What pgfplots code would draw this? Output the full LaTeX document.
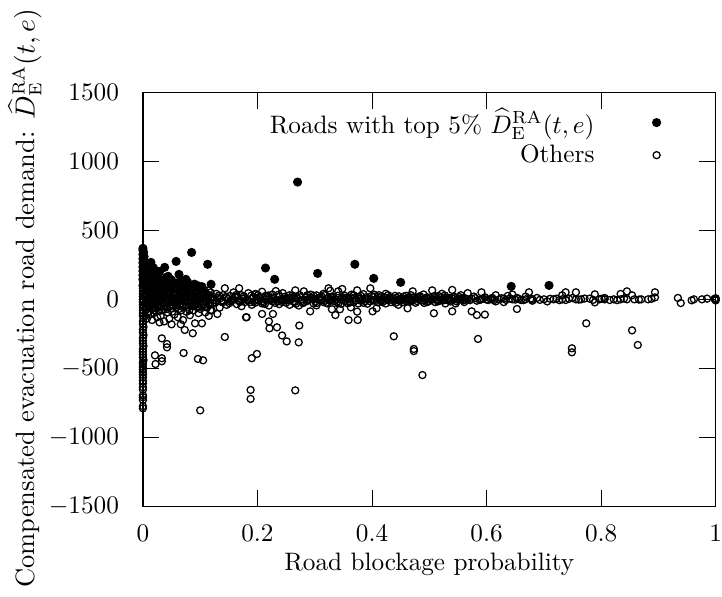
\documentclass[border=0pt]{standalone}
\usepackage{pgfplots}
\pgfplotsset{compat=1.18}
\begin{document}
\begin{tikzpicture}
\begin{axis}[
 scale only axis, width=227pt, height=164pt,
 xmin=0, xmax=1, ymin=-1500, ymax=1500,
 clip=false,
 xtick={0,0.2,0.4,0.6,0.8,1}, ytick={-1500,-1000,-500,0,500,1000,1500},
 tick align=inside, major tick length=6.5pt,
 every tick/.style={black, line width=0.4pt},
 axis line style={line width=0.5pt},
 scaled x ticks=false,
 xticklabel style={/pgf/number format/fixed, /pgf/number format/precision=1, inner sep=0pt, yshift=-7.3pt},
 yticklabel style={/pgf/number format/1000 sep={}, xshift=-6pt},
 xlabel={Road blockage probability},
 xlabel style={yshift=-1pt},
 ylabel={\fontsize{10.5}{12}\selectfont Compensated evacuation road demand: $\widehat{D}^{\mathrm{RA}}_{\mathrm{E}}(t,e)$},
 ylabel style={at={(ticklabel cs:0.503)}, yshift=-4pt},
 legend style={draw=none, fill=none, at={(rel axis cs:0.918,0.987)}, anchor=north east, column sep=21pt, row sep=-1pt},
 legend cell align=right,
 legend plot pos=right,
]
\addplot[only marks, mark=*, mark size=1.6pt, black] coordinates {
(0,370)(0,355)(0.001,340)(0,325)(0.002,310)(0,295)(0.001,280)(0,265)(0.002,250)(0,235)(0.001,220)(0,205)(0.003,190)(0,175)(0.002,160)(0,145)(0.001,130)(0.004,115)(0,100)
(0.006,240)(0.008,200)(0.010,170)(0.012,140)(0.014,268)(0.016,120)(0.018,230)(0.020,105)(0.022,210)(0.025,180)(0.028,150)(0.030,130)(0.033,110)(0.036,95)(0.038,232)(0.041,160)(0.044,167)(0.047,125)(0.050,140)(0.053,100)(0.058,275)(0.060,120)(0.063,181)(0.066,105)(0.070,130)(0.075,145)(0.080,95)(0.085,340)(0.090,110)(0.095,100)(0.103,92)(0.113,254)(0.119,109)
(0.003,150)(0.005,95)(0.007,130)(0.009,110)(0.011,220)(0.013,100)(0.015,185)(0.017,150)(0.019,125)(0.021,95)(0.024,140)(0.027,110)(0.029,200)(0.032,90)(0.035,135)(0.039,120)(0.043,100)(0.046,150)(0.049,95)(0.055,115)(0.068,95)(0.072,110)(0.078,125)
(0.214,227)(0.23,145)(0.27,850)(0.305,188)(0.37,254)(0.403,152)(0.45,123)(0.643,94)(0.709,101)
};
\addlegendentry{Roads with top 5\% $\widehat{D}^{\mathrm{RA}}_{\mathrm{E}}(t,e)$}
\addplot[only marks, mark=o, mark size=1.4pt, mark options={line width=0.5pt}, black] coordinates {
(0,80)(0,60)(0,40)(0,20)(0,0)(0,-20)(0,-40)(0,-60)(0,-80)
(0,-100)(0,-120)(0.001,-140)(0,-160)(0,-180)(0.001,-200)(0,-220)(0,-240)(0.001,-260)(0,-280)(0,-300)(0,-320)(0.001,-340)(0,-360)(0,-380)(0,-400)(0,-420)(0.001,-440)(0,-456)(0,-470)(0,-490)(0,-510)(0,-529)(0,-545)(0,-565)(0,-590)(0,-610)(0,-637)(0,-655)(0,-695)(0,-710)(0,-730)(0,-775)(0,-790)
(0.004,60)(0.004,-30)(0.004,-120)(0.004,10)
(0.007,80)(0.007,-60)(0.007,20)(0.007,-10)(0.007,-140)
(0.010,40)(0.010,-90)(0.010,5)(0.010,-40)
(0.013,70)(0.013,-20)(0.013,-110)(0.013,30)
(0.016,50)(0.016,-70)(0.016,0)(0.016,-150)
(0.019,85)(0.019,-35)(0.019,15)(0.019,-100)
(0.022,60)(0.022,-5)(0.022,-60)
(0.025,75)(0.025,-130)(0.025,25)(0.025,-45)
(0.028,40)(0.028,-15)(0.028,-85)
(0.031,65)(0.031,-50)(0.031,10)(0.031,-120)
(0.034,80)(0.034,0)(0.034,-30)
(0.037,55)(0.037,-75)(0.037,20)(0.037,-160)
(0.040,70)(0.040,-10)(0.040,-55)
(0.043,35)(0.043,-95)(0.043,5)
(0.046,60)(0.046,-25)(0.046,-140)
(0.049,80)(0.049,15)(0.049,-65)
(0.052,50)(0.052,-40)(0.052,-5)
(0.055,75)(0.055,-110)(0.055,25)
(0.058,40)(0.058,-60)(0.058,0)
(0.061,65)(0.061,-20)(0.061,-130)
(0.064,85)(0.064,10)(0.064,-45)
(0.067,55)(0.067,-80)(0.067,-10)
(0.070,70)(0.070,-35)(0.070,20)(0.070,-150)
(0.073,45)(0.073,-5)(0.073,-222)
(0.076,60)(0.076,-90)(0.076,15)
(0.079,80)(0.079,-25)(0.079,-60)
(0.082,35)(0.082,5)(0.082,-115)
(0.085,65)(0.085,-45)(0.085,-15)
(0.088,50)(0.088,20)(0.088,-80)
(0.091,75)(0.091,-30)(0.091,-174)
(0.094,40)(0.094,0)(0.094,-55)
(0.097,60)(0.097,-100)(0.097,10)
(0.100,80)(0.100,-20)(0.100,-70)
(0.103,45)(0.103,-174)(0.103,5)
(0.106,70)(0.106,-40)(0.106,25)
(0.109,55)(0.109,-10)(0.109,-95)
(0.112,35)(0.112,15)(0.112,-60)
(0.115,65)(0.115,-30)(0.115,-120)
(0.118,50)(0.118,-80)(0.118,0)
(0.002,45)(0.002,-50)(0.005,25)(0.005,-75)(0.006,-5)(0.008,55)(0.009,-25)(0.011,70)(0.011,-55)(0.012,15)(0.014,-5)(0.015,45)(0.017,-40)(0.018,25)(0.020,-80)(0.021,35)(0.023,-25)(0.024,10)(0.026,50)(0.027,-60)(0.029,20)(0.030,-5)(0.032,40)(0.033,-80)(0.035,25)(0.036,-20)(0.038,50)(0.039,-40)(0.041,15)(0.042,-70)(0.044,60)(0.045,-10)(0.047,30)(0.048,-50)(0.050,20)(0.051,-90)(0.053,45)(0.054,-25)(0.056,10)(0.057,-45)(0.059,70)(0.060,-5)(0.062,30)(0.063,-70)(0.065,45)(0.066,-30)(0.068,15)(0.069,-55)(0.071,60)(0.072,-15)(0.074,25)(0.075,-45)(0.077,40)(0.078,-5)(0.080,20)(0.081,-80)(0.083,55)(0.084,-25)(0.086,10)(0.087,-50)(0.089,35)(0.090,-10)(0.092,50)(0.093,-35)(0.095,20)(0.096,-60)(0.098,35)(0.099,-5)(0.101,25)(0.102,-45)(0.104,50)(0.105,-15)(0.107,10)(0.108,-55)(0.110,40)(0.111,-25)(0.113,20)(0.114,-5)(0.116,30)(0.117,-40)(0.119,15)
(0.033,-283)(0.042,-324)(0.042,-348)(0.021,-406)(0.033,-427)(0.022,-469)(0.033,-449)(0.05,-181)(0.066,-181)(0.087,-246)(0.071,-389)(0.096,-432)(0.105,-442)(0.1,-805)(0.029,-167)(0.008,-99)
(0.122,20)(0.122,-30)(0.128,-10)(0.128,40)(0.134,5)(0.134,-60)(0.140,30)(0.140,-20)(0.143,80)(0.146,-40)(0.146,10)(0.152,25)(0.152,-15)(0.158,0)(0.158,50)(0.164,-35)(0.164,15)(0.168,80)(0.168,-5)(0.172,30)(0.172,-50)(0.178,-20)(0.178,10)(0.181,-130)(0.184,45)(0.184,-10)(0.190,5)(0.190,-40)(0.196,38)(0.196,-25)(0.202,15)(0.202,-5)(0.208,-30)(0.208,55)(0.214,0)(0.214,25)(0.220,-45)(0.220,10)(0.220,-160)(0.226,35)(0.226,-15)(0.227,-106)(0.232,60)(0.232,-5)(0.238,20)(0.238,-35)(0.243,-262)(0.244,-10)(0.244,45)(0.250,10)(0.250,-25)(0.251,-305)(0.256,-40)(0.256,30)(0.262,5)(0.262,-15)(0.266,65)(0.266,-660)(0.268,20)(0.272,-312)(0.272,-45)(0.273,-190)(0.275,15)(0.275,-5)(0.281,58)(0.281,-20)(0.287,0)(0.287,30)(0.292,-87)(0.292,10)(0.298,25)(0.298,-30)(0.303,29)(0.303,-44)(0.309,-10)(0.309,15)(0.315,40)(0.315,-20)(0.320,5)(0.320,-25)(0.324,80)(0.327,62)(0.327,-10)(0.330,-72)(0.330,20)(0.336,-114)(0.336,0)(0.341,58)(0.341,-30)(0.344,-72)(0.348,75)(0.348,10)(0.353,-15)(0.353,25)(0.359,-150)(0.359,0)(0.363,-58)(0.363,15)(0.368,30)(0.368,-20)(0.374,65)(0.374,-89)(0.380,5)(0.380,-10)(0.385,38)(0.385,-25)(0.390,15)(0.390,0)(0.397,80)(0.397,-15)(0.401,-87)(0.405,20)(0.405,-5)(0.408,-65)(0.412,10)(0.412,30)(0.418,-20)(0.418,0)(0.424,40)(0.424,-30)(0.430,5)(0.430,15)(0.438,-268)(0.440,-10)(0.440,25)(0.446,0)(0.446,-40)
(0.143,-273)(0.188,-657)(0.188,-722)(0.19,-427)(0.199,-396)(0.221,-210)(0.234,-203)(0.18,-130)(0.375,-150)(0.208,-106)(0.130,-106)(0.120,-80)(0.197,38)
(0.124,-5)(0.131,12)(0.137,-18)(0.149,3)(0.155,-8)(0.161,20)(0.167,-12)(0.175,6)(0.187,-20)(0.193,14)(0.199,-3)(0.205,8)(0.211,-22)(0.217,16)(0.223,-6)(0.229,10)(0.235,-14)(0.241,2)(0.247,18)(0.253,-8)(0.259,12)(0.265,-20)(0.271,4)(0.278,-12)(0.284,16)(0.290,-4)(0.295,8)(0.301,-16)(0.306,2)(0.312,20)(0.318,-10)(0.323,6)(0.329,-4)(0.333,14)(0.339,-18)(0.345,2)(0.351,-6)(0.356,12)(0.361,-24)(0.366,4)(0.371,-8)(0.377,18)(0.383,-2)(0.388,-14)(0.394,6)(0.399,24)(0.403,-8)(0.409,2)(0.415,-12)(0.421,14)(0.427,-4)(0.433,-20)(0.436,8)(0.443,12)(0.449,-8)(0.452,4)(0.459,-12)(0.465,8)(0.470,-4)(0.479,12)(0.485,-8)(0.493,2)(0.499,-14)(0.502,10)(0.513,-2)(0.519,14)(0.525,-8)(0.531,4)(0.537,-16)(0.545,8)(0.551,-4)(0.558,2)
(0.121,8)(0.126,-22)(0.133,28)(0.139,-8)(0.145,18)(0.151,-28)(0.157,-2)(0.163,32)(0.170,-18)(0.176,22)(0.182,-4)(0.189,26)(0.195,-12)(0.201,30)(0.207,-16)(0.213,-34)(0.219,28)(0.225,6)(0.231,-26)(0.237,34)(0.242,-18)(0.249,-4)(0.255,10)(0.261,28)(0.267,-32)(0.274,30)(0.279,-28)(0.286,-14)(0.293,34)(0.299,4)(0.304,-26)(0.310,-4)(0.317,30)(0.322,-30)(0.328,12)(0.334,-14)(0.340,26)(0.346,-32)(0.352,8)(0.357,-28)(0.364,34)(0.370,10)(0.376,-30)(0.381,24)(0.387,4)(0.392,-32)(0.398,-2)(0.404,34)(0.410,-22)(0.416,22)(0.422,-10)(0.428,30)(0.434,-4)(0.441,-26)(0.447,22)(0.453,-22)(0.460,26)(0.466,-8)(0.472,14)(0.478,-12)(0.484,22)(0.491,-26)(0.497,2)(0.503,-6)(0.509,24)(0.515,-16)(0.521,-6)(0.527,28)(0.533,-2)(0.539,10)(0.546,-30)(0.553,16)(0.560,-8)(0.565,2)(0.571,-6)(0.580,8)(0.588,-4)(0.594,6)(0.600,-2)(0.607,4)(0.613,-6)(0.626,8)(0.634,-4)(0.641,6)(0.650,-2)(0.656,4)(0.664,-6)(0.677,6)(0.693,-4)(0.711,4)(0.727,-6)(0.744,4)(0.761,-2)(0.771,6)(0.786,-4)(0.801,4)(0.828,-6)(0.840,6)(0.866,-2)(0.888,4)
(0.455,0)(0.455,20)(0.462,-65)(0.462,10)(0.463,-5)(0.468,30)(0.468,-15)(0.471,58)(0.473,-360)(0.473,-375)(0.476,5)(0.476,-25)(0.482,20)(0.482,0)(0.488,-549)(0.490,-10)(0.490,35)(0.496,15)(0.496,-20)(0.505,65)(0.505,0)(0.508,-101)(0.510,-20)(0.510,10)(0.516,25)(0.516,-5)(0.522,0)(0.522,40)(0.528,-30)(0.528,15)(0.534,10)(0.534,-10)(0.540,-87)(0.540,68)(0.543,20)(0.548,0)(0.548,-15)(0.555,30)(0.555,5)(0.561,-20)(0.561,10)(0.567,45)(0.567,0)(0.574,-87)(0.574,5)(0.578,20)(0.583,-114)(0.583,-10)(0.585,-287)(0.591,51)(0.591,0)(0.597,-111)(0.597,15)(0.603,-5)(0.610,10)(0.610,0)(0.616,30)(0.616,-15)(0.622,0)(0.630,5)(0.630,-20)(0.637,25)(0.645,0)(0.645,35)(0.653,-70)(0.653,10)(0.660,-5)(0.668,0)(0.668,20)(0.674,51)(0.680,0)(0.680,-10)(0.688,10)(0.700,0)(0.706,-15)(0.717,0)(0.722,5)(0.732,29)(0.732,0)(0.738,51)(0.738,-5)(0.749,-355)(0.749,-384)(0.750,10)(0.756,51)(0.756,0)(0.765,0)(0.774,-174)(0.780,5)(0.789,36)(0.789,-22)(0.797,0)(0.806,0)(0.806,10)(0.815,-5)(0.822,0)(0.834,39)(0.834,0)(0.845,58)(0.845,0)(0.854,-225)(0.854,29)(0.858,0)(0.864,-331)(0.870,0)(0.882,0)(0.894,51)(0.894,14)(0.934,10)(0.939,-27)(0.958,-7)(0.962,0)(0.976,0)(0.985,5)(1,0)(1,-8)(1,8)(0.998,3)
};
\addlegendentry{Others}
\end{axis}
\end{tikzpicture}
\end{document}
